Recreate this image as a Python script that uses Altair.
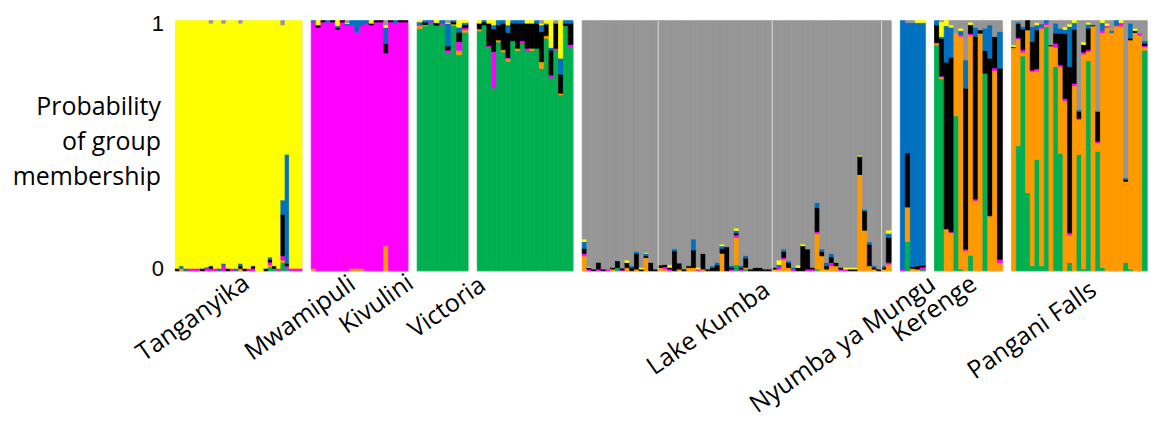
import altair as alt
import pandas as pd

# cluster order (bottom -> top) and colours
CLUSTERS = ["green", "orange", "magenta", "black", "blue", "yellow", "gray"]
COLORS = ["#00B050", "#FF9900", "#FF00FF", "#000000", "#0070C0", "#FFFF00", "#969696"]

POPULATIONS = ["Tanganyika", "Mwamipuli", "Kivulini", "Victoria", "Lake Kumba",
               "Nyumba ya Mungu", "Kerenge", "Pangani Falls"]

# each row: (green, orange, magenta, black, blue, yellow, gray); None = remainder of the individual
TANGANYIKA = [
    (0, 0, 0, .01, 0, None, 0), (0, .01, 0, 0, .01, None, 0), (0, 0, 0, 0, .01, None, 0),
    (0, 0, .01, 0, 0, None, 0), (0, 0, .01, 0, 0, None, 0), (0, 0, .01, 0, 0, None, 0),
    (0, 0, 0, .01, 0, None, 0), (0, 0, .01, 0, .005, None, 0), (0, 0, .01, .01, 0, None, .01),
    (0, 0, .01, 0, 0, None, 0), (0, 0, 0, 0, .01, None, 0), (0, 0, .02, 0, .01, None, .01),
    (0, 0, 0, .01, 0, None, 0), (0, 0, .01, 0, 0, None, 0), (0, 0, 0, 0, .01, None, 0),
    (0, .01, 0, .01, .01, None, .01), (0, 0, 0, .01, 0, None, 0), (0, 0, .01, 0, 0, None, 0),
    (0, 0, .01, .01, 0, None, 0), (0, 0, 0, 0, 0, None, 0), (0, 0, 0, 0, 0, None, 0),
    (0, 0, 0, .01, 0, None, 0), (.015, .01, .01, .01, .01, None, 0), (.01, 0, 0, .01, 0, None, 0),
    (0, 0, .01, 0, 0, None, 0), (.033, .01, .017, .166, .057, None, .017),
    (.01, 0, .01, .01, .436, None, 0), (0, 0, .01, 0, 0, None, 0), (0, 0, .01, 0, 0, None, 0),
    (0, 0, .01, 0, 0, None, 0),
]
MWAMIPULI = [
    (0, .01, None, 0, .005, 0, 0), (0, 0, None, .01, 0, .017, 0), (0, 0, None, .005, 0, 0, 0),
    (0, 0, None, 0, .006, 0, 0), (0, 0, None, .005, 0, 0, 0), (0, 0, None, .006, .008, .02, 0),
    (0, 0, None, .005, 0, 0, 0), (0, 0, None, 0, .007, .004, .007), (0, .01, None, 0, .017, 0, 0),
    (0, .01, None, 0, .046, 0, 0), (0, .01, None, 0, .02, 0, 0), (0, 0, None, 0, .01, 0, 0),
    (0, 0, None, .007, 0, .01, 0), (0, 0, None, .005, 0, 0, 0), (0, 0, None, .005, 0, 0, 0),
    (0, .1, None, .037, .065, .01, .017), (0, 0, None, .005, 0, 0, 0), (0, 0, None, 0, .007, 0, 0),
    (0, 0, None, .005, 0, 0, 0), (0, 0, None, .005, 0, 0, 0),
]
KIVULINI = [
    (None, .012, .005, 0, .01, .005, 0), (None, .005, 0, .01, .006, 0, 0),
    (None, 0, .004, 0, .005, 0, 0), (None, 0, 0, .01, 0, .008, 0), (None, 0, .004, 0, .01, 0, 0),
    (None, 0, .01, .016, .09, .004, .007), (None, .005, 0, .008, .005, 0, 0),
    (None, .017, .036, .037, .02, .026, 0), (None, .01, .008, .012, .008, .008, 0),
]
VICTORIA = [
    (None, .008, 0, .023, 0, .01, 0), (None, 0, 0, .012, .005, 0, 0), (None, 0, .005, .09, 0, .01, 0),
    (None, 0, .146, .09, .016, .017, 0), (None, .008, 0, .06, .017, 0, 0),
    (None, .009, 0, .106, .01, 0, 0), (None, .01, .005, .1, .03, .017, 0), (None, 0, 0, .07, .01, 0, 0),
    (None, .01, 0, .1, .01, 0, 0), (None, 0, .009, .07, .01, 0, 0), (None, 0, .009, .1, 0, .01, 0),
    (None, .009, 0, .1, 0, .01, 0), (None, 0, 0, .1, .01, 0, 0), (None, .027, 0, .12, .027, .007, .01),
    (None, .01, 0, .045, .005, .01, 0), (None, 0, .012, .1, .01, .107, 0), (None, 0, .007, .1, 0, 0, .01),
    (None, .007, 0, .076, .064, .15, 0), (None, 0, 0, .01, .01, 0, 0), (None, 0, .01, .085, .01, 0, 0),
]
LAKE_KUMBA = [
    (0, .06, .01, .02, .027, .01, None), (0, 0, .007, .007, 0, .003, None), (0, 0, 0, .007, 0, 0, None),
    (0, 0, .007, .027, 0, 0, None), (0, 0, 0, .007, 0, 0, None), (0, 0, .007, 0, 0, 0, None),
    (0, .007, 0, .007, 0, 0, None), (.013, 0, 0, .027, 0, 0, None), (0, 0, .004, .007, 0, 0, None),
    (0, .013, 0, .02, 0, .01, None), (0, 0, 0, .013, .007, 0, None), (0, .007, 0, .062, .008, 0, None),
    (0, 0, 0, .007, 0, .007, None), (0, .053, 0, .007, .01, .004, None), (0, 0, 0, .033, 0, 0, None),
    (0, 0, 0, .007, 0, 0, None), (0, .013, 0, .01, 0, 0, None), (0, .007, .01, .008, 0, 0, None),
    (0, 0, .007, .007, 0, .01, None), (0, 0, 0, .08, .008, 0, None), (0, .007, 0, .024, 0, 0, None),
    (0, 0, 0, .007, 0, 0, None), (0, .013, 0, .007, 0, 0, None), (0, .013, 0, .07, .044, 0, None),
    (0, 0, .007, 0, 0, .007, None), (0, .007, 0, .062, 0, 0, None), (0, 0, 0, .007, 0, 0, None),
    (0, 0, 0, .013, .007, 0, None), (0, 0, 0, .024, .01, 0, None), (0, .07, 0, .02, .01, .007, None),
    (0, 0, 0, .096, 0, 0, None), (0, 0, .007, .007, .007, 0, None), (.024, .11, .01, .007, .01, .01, None),
    (0, 0, .007, .007, .007, 0, None), (.007, .007, 0, .037, .01, 0, None), (0, 0, 0, .007, 0, 0, None),
    (0, 0, 0, .013, 0, 0, None), (0, 0, 0, .013, 0, 0, None), (0, 0, 0, .007, 0, 0, None),
    (0, 0, 0, .007, 0, 0, None), (0, .007, 0, .007, 0, 0, None), (0, .007, .01, 0, .008, .018, None),
    (0, .046, .007, .024, .01, 0, None), (0, .013, 0, .02, .007, 0, None), (0, 0, .007, 0, .007, 0, None),
    (0, 0, 0, .013, 0, .01, None), (0, 0, 0, .1, 0, .007, None), (0, 0, .007, .08, 0, 0, None),
    (0, 0, .007, .007, 0, 0, None), (.007, .142, .008, .096, .02, 0, None), (0, .06, 0, .017, .01, 0, None),
    (0, .007, 0, .013, .013, 0, None), (0, .02, .013, .023, .013, 0, None), (0, .02, 0, .013, 0, 0, None),
    (0, 0, .007, .007, 0, 0, None), (0, 0, .007, 0, 0, .007, None), (0, 0, 0, .007, 0, .007, None),
    (0, 0, 0, .007, 0, .007, None), (0, .385, 0, .073, 0, .004, None), (0, .162, 0, .077, .007, 0, None),
    (0, .02, 0, .086, .01, 0, None), (0, .007, 0, .007, .007, 0, None), (0, 0, 0, .007, 0, 0, None),
    (0, .007, 0, .007, .007, 0, None), (0, .027, .007, .1, .016, .013, None),
]
LAKE_KUMBA_DIVIDERS = [16, 40, 63]
NYUMBA = [
    (0, 0, .007, 0, None, 0, 0), (.117, .138, 0, .216, None, 0, .008), (0, .01, 0, .007, None, 0, .008),
    (0, .007, 0, .013, None, .008, 0), (.005, 0, .01, .007, None, .008, 0),
]
KERENGE = [
    (None, .007, .003, .07, .017, 0, 0), (None, .009, .003, .15, .007, .06, .004),
    (0, .166, .003, None, .146, .02, 0), (0, .153, .003, None, .12, .009, .017),
    (None, .33, 0, 0, 0, 0, .05), (.007, None, .007, 0, .015, .01, .03),
    (0, .08, .007, None, .113, 0, .157), (.062, None, .007, .035, 0, .01, .006),
    (0, .28, .007, None, .037, 0, .026), (0, None, 0, .013, 0, 0, .037),
    (None, 0, 0, .09, .09, 0, .03), (0, .22, 0, None, .133, 0, .017),
    (0, None, .01, .125, 0, 0, .064), (0, .033, .013, None, .146, 0, .044),
]
PANGANI = [
    (0, None, 0, .004, 0, .007, .097), (.5, None, .005, .056, .007, 0, .005),
    (None, .015, .01, .082, .01, 0, .024), (.312, None, 0, .037, 0, 0, 0),
    (.02, None, .007, .113, .06, 0, .024), (.445, None, .008, .155, .02, .01, .007),
    (.02, None, .007, 0, .01, 0, .013), (None, .007, .007, 0, .01, 0, 0),
    (0, None, 0, .004, 0, 0, .097), (None, .077, .016, .04, .04, 0, .01),
    (.47, None, .007, .126, .02, 0, .03), (0, None, .01, .26, .016, .01, .025),
    (.033, .11, .009, None, .16, .01, .013), (0, None, .01, .215, .027, .008, 0),
    (.465, .14, .005, .027, .007, 0, None), (.007, None, .008, .03, 0, .01, .085),
    (None, .037, .007, .086, .016, .008, .006), (0, None, 0, .004, 0, 0, .017),
    (.478, .033, .007, .12, 0, 0, None), (.013, None, .01, 0, .03, .008, 0),
    (0, None, .007, 0, 0, .01, .01), (0, None, 0, 0, .008, 0, .04),
    (0, None, .004, 0, .017, 0, 0), (0, None, .013, 0, 0, .008, 0),
    (.033, .325, 0, .007, .007, 0, None), (.007, None, 0, .007, .06, 0, .01),
    (0, None, 0, .007, 0, .01, .03), (0, None, .007, 0, 0, 0, .05),
    (None, .013, .005, .01, .01, 0, .08),
]

POP_DATA = [TANGANYIKA, MWAMIPULI, KIVULINI, VICTORIA, LAKE_KUMBA, NYUMBA, KERENGE, PANGANI]

# layout (pixels): panel widths and label anchors relative to each panel
PANEL_W = [127, 97, 51, 96, 310, 25, 68, 136]
LABEL_XY = [(76, 267), (46, 268), (-2, 267), (10, 269), (190, 274), (37, 268), (44, 268), (87, 274)]
H = 251
FONT = "Open Sans"
FS = 25
TICK_FONT = "Liberation Sans"
TICK_FS = 22


def long_table(rows):
    recs = []
    for i, row in enumerate(rows):
        rest = 1 - sum(v for v in row if v is not None)
        for k, v in enumerate(row):
            val = rest if v is None else v
            if val > 0:
                recs.append({"ind": i, "cluster": CLUSTERS[k], "k": k, "value": val})
    return pd.DataFrame(recs)


color_scale = alt.Scale(domain=CLUSTERS, range=COLORS)
panels = []
for p, (name, rows) in enumerate(zip(POPULATIONS, POP_DATA)):
    df = long_table(rows)
    if p == 0:
        yaxis = alt.Axis(values=[0, 1], labelFontSize=TICK_FS, labelFont=TICK_FONT, labelColor="black",
                         ticks=False, domain=False, grid=False, labelPadding=12, labelFlush=False,
                         labelOffset=alt.condition("datum.value == 1", alt.value(3), alt.value(-2)),
                         title=["Probability", "of group", "membership"], titleAngle=0,
                         titleAlign="right", titleBaseline="middle", titleX=-15, titleY=86,
                         titleFont=FONT, titleFontSize=FS, titleFontWeight="normal",
                         titleLineHeight=35, titleColor="black", format="d")
    else:
        yaxis = None
    bars = alt.Chart(df).mark_bar(strokeWidth=0.8).encode(
        x=alt.X("ind:O", axis=None, scale=alt.Scale(paddingInner=0, paddingOuter=0)),
        y=alt.Y("value:Q", stack="zero", scale=alt.Scale(domain=[0, 1], nice=False), axis=yaxis),
        color=alt.Color("cluster:N", scale=color_scale, legend=None),
        stroke=alt.Stroke("cluster:N", scale=color_scale, legend=None),
        order=alt.Order("k:Q"),
    )
    lx, ly = LABEL_XY[p]
    label = alt.Chart(pd.DataFrame({"label": [name]})).mark_text(
        angle=325, align="right", baseline="alphabetic", fontSize=FS, font=FONT, color="black"
    ).encode(x=alt.value(lx), y=alt.value(ly), text="label:N")
    layers = [bars]
    if name == "Lake Kumba":
        div = alt.Chart(pd.DataFrame({"ind": LAKE_KUMBA_DIVIDERS})).mark_rule(
            color="#d0d0d0", strokeWidth=1.2
        ).encode(x=alt.X("ind:O", bandPosition=0), y=alt.value(0), y2=alt.value(H))
        layers.append(div)
    layers.append(label)
    panels.append(alt.layer(*layers).properties(width=PANEL_W[p], height=H))

chart = alt.hconcat(*panels, spacing=9.3, bounds="flush").properties(
    padding={"left": 3, "top": 3, "right": 0, "bottom": 0}
).configure_view(stroke=None).configure(background="white")

chart.save("out.html", embed_options={"renderer": "svg", "actions": False})
